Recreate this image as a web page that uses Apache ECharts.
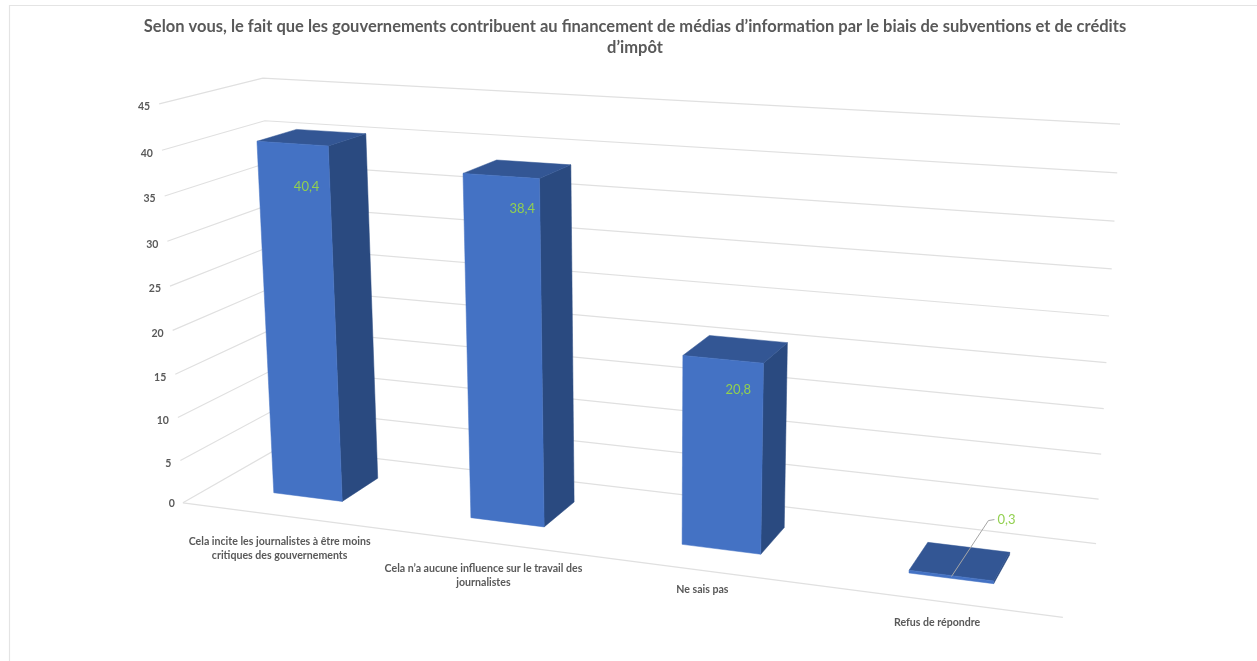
<!DOCTYPE html>
<html><head><meta charset="utf-8">
<style>html,body{margin:0;padding:0;background:#fff}#c{width:1257px;height:661px}</style>
<script src="https://cdn.jsdelivr.net/npm/echarts@6/dist/echarts.min.js"></script>
</head><body><div id="c"></div>
<script>
const categories = ["Cela incite les journalistes à être moins\ncritiques des gouvernements","Cela n’a aucune influence sur le travail des\njournalistes","Ne sais pas","Refus de répondre"];
const values = [40.4,38.4,20.8,0.3];
const valueLabels = ["40,4","38,4","20,8","0,3"];
const ticks = [0,5,10,15,20,25,30,35,40,45];
const titleText = "Selon vous, le fait que les gouvernements contribuent au financement de médias d’information par le biais de subventions et de crédits\nd’impôt";

// layout: perspective camera fitted to the chart box corners (u,v,d) -> (x,y)
const anchors = [[0,0,0,183,503],[1,0,0,1063,617],[1,0,1,1096,544],[0,0,1,280,447],[0,1,0,159,104],[0,1,1,263,78],[1,1,1,1120,124]];
const barFrac = 0.355, barShift = -0.001, depthFront = 0.30, depthBack = 0.70;
const labelOffsets = [[14,43],[21,33],[15,30]];
const catOffsets = [[0,25],[0,26],[0,18],[-1,20]];

function fit(a){
  const A=[],b=[];
  a.forEach(([u,v,d,x,y])=>{
    A.push([u,v,d,1,0,0,0,0,-x*u,-x*v,-x*d]);b.push(x);
    A.push([0,0,0,0,u,v,d,1,-y*u,-y*v,-y*d]);b.push(y);
  });
  const n=11,M=[];
  for(let i=0;i<n;i++){M[i]=[];for(let j=0;j<n;j++){let s=0;A.forEach(r=>s+=r[i]*r[j]);M[i][j]=s;}let s=0;A.forEach((r,k)=>s+=r[i]*b[k]);M[i][n]=s;}
  for(let i=0;i<n;i++){let p=i;for(let k=i+1;k<n;k++)if(Math.abs(M[k][i])>Math.abs(M[p][i]))p=k;[M[i],M[p]]=[M[p],M[i]];
    for(let k=0;k<n;k++){if(k===i)continue;const f=M[k][i]/M[i][i];for(let j=i;j<=n;j++)M[k][j]-=f*M[i][j];}}
  return M.map((r,i)=>r[n]/r[i]);
}
const P=fit(anchors);
function proj(u,v,d){const w=P[8]*u+P[9]*v+P[10]*d+1;return [(P[0]*u+P[1]*v+P[2]*d+P[3])/w,(P[4]*u+P[5]*v+P[6]*d+P[7])/w];}
function toUV(pt,cs){return [(pt[0]-cs.x)/cs.width,(cs.y+cs.height-pt[1])/cs.height];}

const GRID='#e0e0e0';
function renderGrid(params,api){
  const cs=params.coordSys,[,v]=toUV(api.coord([0,api.value(0)]),cs);
  const a=proj(0,v,0),b=proj(0,v,1),c=proj(1,v,1);
  const kids=[{type:'polyline',shape:{points:[a,b,c]},style:{stroke:GRID,lineWidth:1.2,fill:null}},
   {type:'text',style:{x:a[0]-(v===0?8:9),y:a[1]+(v===0?1:3),text:String(api.value(0)),fill:'#595959',font:'bold 10.5px Lato',textAlign:'right',textVerticalAlign:'middle'}}];
  if(v===0){const e=proj(1,0,0);kids.push({type:'line',shape:{x1:a[0],y1:a[1],x2:e[0],y2:e[1]},style:{stroke:GRID,lineWidth:1.2}});}
  return {type:'group',children:kids};
}
function renderBar(params,api){
  const cs=params.coordSys,i=api.value(0),val=api.value(1);
  const pt=api.coord([i,val]);
  const hw=api.size([1,0])[0]*barFrac/2;
  const ul=toUV([pt[0]-hw,pt[1]],cs)[0]+barShift,ur=toUV([pt[0]+hw,pt[1]],cs)[0]+barShift,v=toUV(pt,cs)[1];
  const f0=proj(ul,0,depthFront),f1=proj(ur,0,depthFront),f2=proj(ur,v,depthFront),f3=proj(ul,v,depthFront);
  const b1=proj(ur,0,depthBack),b2=proj(ur,v,depthBack),b3=proj(ul,v,depthBack);
  const kids=[
   {type:'polygon',shape:{points:[f1,b1,b2,f2]},style:{fill:'#2a4a80',stroke:'#2a4a80',lineWidth:0.5}},
   {type:'polygon',shape:{points:[f3,f2,b2,b3]},style:{fill:'#335694',stroke:'#335694',lineWidth:0.5}},
   {type:'polygon',shape:{points:[f0,f1,f2,f3]},style:{fill:'#4472c4',stroke:'#4472c4',lineWidth:0.5}}];
  const cx=(f3[0]+f2[0])/2,cy=(f3[1]+f2[1])/2;
  const off=labelOffsets[i];
  if(off){kids.push({type:'text',style:{x:cx+off[0],y:cy+off[1],text:valueLabels[i],fill:'#92d050',font:'13px Lato',textAlign:'center',textVerticalAlign:'middle'}});}
  else{
    const s=[cx,cy+1],m=[cx+37,cy-55],e=[cx+43,cy-56];
    kids.push({type:'polyline',shape:{points:[s,m,e]},style:{stroke:'#a6a6a6',lineWidth:1,fill:null}});
    kids.push({type:'text',style:{x:e[0]+3,y:e[1],text:valueLabels[i],fill:'#92d050',font:'13px Lato',textAlign:'left',textVerticalAlign:'middle'}});
  }
  return {type:'group',children:kids};
}
function renderCat(params,api){
  const cs=params.coordSys,i=api.value(0);
  const pt=api.coord([i,0]),u=toUV(pt,cs)[0],p=proj(u,0,0),o=catOffsets[i];
  return {type:'text',style:{x:p[0]+o[0],y:p[1]+o[1]-6,text:categories[i],fill:'#595959',font:'bold 10.6px Lato',lineHeight:14,textAlign:'center',textVerticalAlign:'top'}};
}
const chart=echarts.init(document.getElementById('c'),null,{renderer:'canvas'});
chart.setOption({
  animation:false,backgroundColor:'#fff',
  title:{text:titleText,left:630,textAlign:'center',top:11,textStyle:{fontFamily:'Lato',fontWeight:'bold',fontSize:16.5,color:'#595959',lineHeight:21}},
  graphic:[{type:'rect',shape:{x:9.5,y:5.5,width:1300,height:700},style:{fill:null,stroke:'#e4e4e4',lineWidth:1.2},silent:true}],
  grid:{left:100,right:100,top:100,bottom:100},
  xAxis:{type:'category',data:categories,show:false},
  yAxis:{type:'value',min:0,max:45,interval:5,show:false},
  series:[
   {type:'custom',name:'grid',silent:true,clip:false,z:1,data:ticks.map(t=>[t]),encode:{y:0},renderItem:renderGrid},
   {type:'custom',name:'cats',silent:true,clip:false,z:2,data:categories.map((c,i)=>[i]),encode:{x:0},renderItem:renderCat},
   {type:'custom',name:'bars',silent:true,clip:false,z:3,data:values.map((v,i)=>[i,v]),encode:{x:0,y:1},renderItem:renderBar}
  ]
});
</script></body></html>
